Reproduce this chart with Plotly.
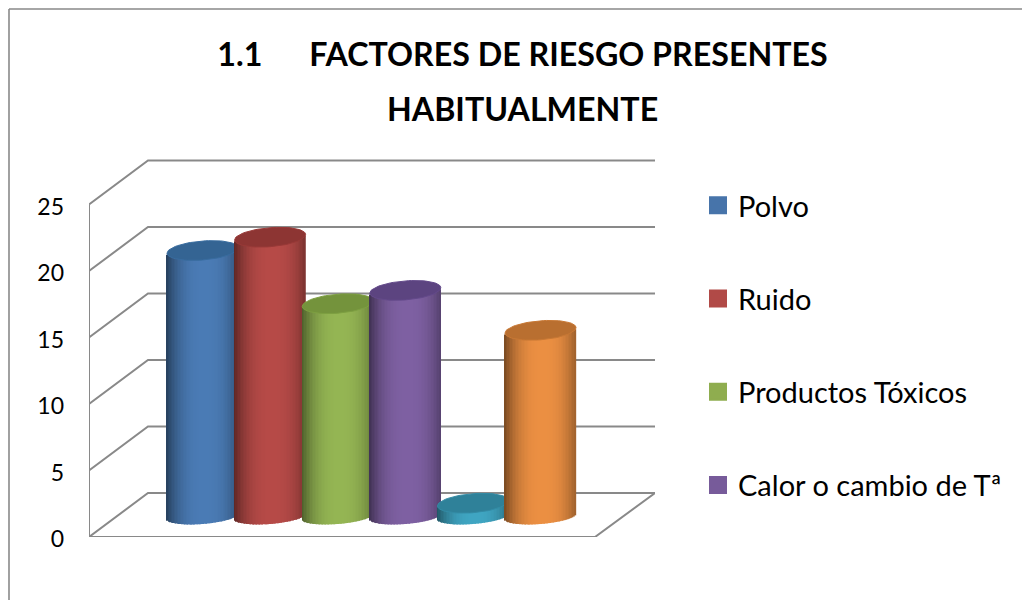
import math
import plotly.graph_objects as go

# ---- data ----
series_names = ["Polvo", "Ruido", "Productos Tóxicos", "Calor o cambio de Tª"]
series_values = [20, 21, 16, 17, 1, 14]
tick_values = [0, 5, 10, 15, 20, 25]
body_colors = ["#4A7BB5", "#B64A47", "#94B553", "#7E60A2", "#3FA5C2", "#EB8F42"]
top_colors = ["#346493", "#8D3533", "#74933C", "#5C4480", "#2F8199", "#B96F30"]
legend_colors = ["#4774AA", "#B14A47", "#8FAD4F", "#775B9A"]
title_lines = ["1.1\u00a0\u00a0\u00a0\u00a0\u00a0\u00a0FACTORES DE RIESGO PRESENTES", "HABITUALMENTE"]

# ---- layout of the pseudo 3D box, in pixels of the 1022x600 page ----
W, H = 1022, 600
PL, PR, PT, PB = 89, 655, 150, 537      # plot area
PX_PER_UNIT = 13.3
PX_PER_CAT = 67.6
FIRST_CENTER = 202.5
FRONT_RIGHT = 595
DEPTH_X, DEPTH_Y = 59, 44

xmin = (PL - FIRST_CENTER) / PX_PER_CAT
xmax = (PR - FIRST_CENTER) / PX_PER_CAT
ymax = (PB - PT) / PX_PER_UNIT
dx = DEPTH_X / PX_PER_CAT
dy = DEPTH_Y / PX_PER_UNIT
front_right = (FRONT_RIGHT - FIRST_CENTER) / PX_PER_CAT
base_level = (PB - 516.5) / PX_PER_UNIT
rx = 35.5 / PX_PER_CAT
ry = 9.5 / PX_PER_UNIT
ry_bottom = 7.5 / PX_PER_UNIT
tilt = 2.7 / PX_PER_UNIT
N_SLICES = 48
GRID = "#898989"


def shade(hex_color, s):
    r, g, b = (int(hex_color[i:i + 2], 16) for i in (1, 3, 5))
    return f"rgb({round(r * s)},{round(g * s)},{round(b * s)})"


fig = go.Figure()

# wall and floor lines
for v in tick_values:
    xs = [xmin, xmin + dx, xmax]
    ys = [v, v + dy, v + dy]
    if v == 0:
        xs += [front_right, xmin]
        ys += [0, 0]
    fig.add_trace(go.Scatter(x=xs, y=ys, mode="lines", line=dict(color=GRID, width=2),
                             showlegend=False, hoverinfo="skip"))
fig.add_trace(go.Scatter(x=[xmin, xmin], y=[tick_values[0], tick_values[-1]], mode="lines",
                         line=dict(color=GRID, width=2), showlegend=False, hoverinfo="skip"))

# cylinders: each on its own overlaid axis pair so later ones cover earlier ones
for i, value in enumerate(series_values):
    n = i + 2
    xa, ya = f"x{n}", f"y{n}"
    ts = [-1 + (k + 0.5) * 2 / N_SLICES for k in range(N_SLICES)]
    xs = [i + t * rx for t in ts]
    bases = [base_level + tilt * t - ry_bottom * math.sqrt(1 - t * t) for t in ts]
    colors = [shade(body_colors[i], 0.60 + 0.40 * (1 - abs(t - 0.08) ** 2.6)) for t in ts]
    fig.add_trace(go.Bar(x=xs, y=[value] * N_SLICES, base=bases, width=2.5 * rx / N_SLICES,
                         marker=dict(color=colors, line=dict(width=0)),
                         xaxis=xa, yaxis=ya, showlegend=False, hoverinfo="skip"))
    angles = [2 * math.pi * k / 72 for k in range(73)]
    ex = [i + rx * math.cos(a) for a in angles]
    ey = [base_level + value + tilt * math.cos(a) + ry * math.sin(a) for a in angles]
    fig.add_trace(go.Scatter(x=ex, y=ey, mode="lines", fill="toself", fillcolor=top_colors[i],
                             line=dict(color=shade(top_colors[i], 1.08), width=1),
                             xaxis=xa, yaxis=ya, showlegend=False, hoverinfo="skip"))

# legend entries
for name, color in zip(series_names, legend_colors):
    fig.add_trace(go.Scatter(x=[None], y=[None], mode="markers", name=name, legendgroup=name,
                             marker=dict(symbol="square", size=16, color=color,
                                         line=dict(color=color, width=2))))

layout_axes = {}
for n in range(2, 8):
    layout_axes[f"xaxis{n}"] = dict(overlaying="x", range=[xmin, xmax], visible=False, fixedrange=True)
    layout_axes[f"yaxis{n}"] = dict(overlaying="y", range=[0, ymax], visible=False, fixedrange=True)

PW, PH = PR - PL, PB - PT
frame_left = (9 - PL) / PW
frame_top = (PB - 9) / PH

fig.update_layout(
    width=W, height=H,
    margin=dict(l=PL, r=W - PR, t=PT, b=H - PB, pad=0, autoexpand=False),
    paper_bgcolor="white", plot_bgcolor="rgba(0,0,0,0)",
    font=dict(family="Lato", color="#000000"),
    barmode="overlay",
    title=dict(text="<b>" + title_lines[0] + "</b>",
               x=522.5 / W, xanchor="center", y=1 - 55 / H, yanchor="middle",
               font=dict(family="Lato", size=32.2, color="#000000")),
    annotations=[dict(text="<b>" + title_lines[1] + "</b>", xref="paper", yref="paper",
                      x=(522 - PL) / PW, y=(PB - 108) / PH, xanchor="center", yanchor="middle",
                      showarrow=False, font=dict(family="Lato", size=32.2, color="#000000"))],
    xaxis=dict(range=[xmin, xmax], visible=False, fixedrange=True),
    yaxis=dict(range=[0, ymax], tickmode="array", tickvals=tick_values, ticktext=[str(v) for v in tick_values],
               showgrid=False, zeroline=False, showline=False, ticks="", ticklabelstandoff=24, ticklabelshift=2,
               tickfont=dict(family="Lato", size=23, color="#000000"), fixedrange=True),
    legend=dict(x=698 / W, xref="container", y=1 - 180 / H, yref="container", xanchor="left", yanchor="top",
                font=dict(family="Lato", size=29), tracegroupgap=52.5, itemwidth=30, maxheight=400,
                bgcolor="rgba(0,0,0,0)"),
    shapes=[
        dict(type="line", xref="paper", yref="paper", x0=frame_left, x1=frame_left, y0=(PB - H) / PH, y1=frame_top,
             line=dict(color=GRID, width=1.6)),
        dict(type="line", xref="paper", yref="paper", x0=frame_left, x1=(W - PL) / PW, y0=frame_top, y1=frame_top,
             line=dict(color=GRID, width=1.6)),
    ],
    **layout_axes,
)

fig.write_html("out.html", config={"displayModeBar": False},
               post_script="document.body.style.margin='0';")
